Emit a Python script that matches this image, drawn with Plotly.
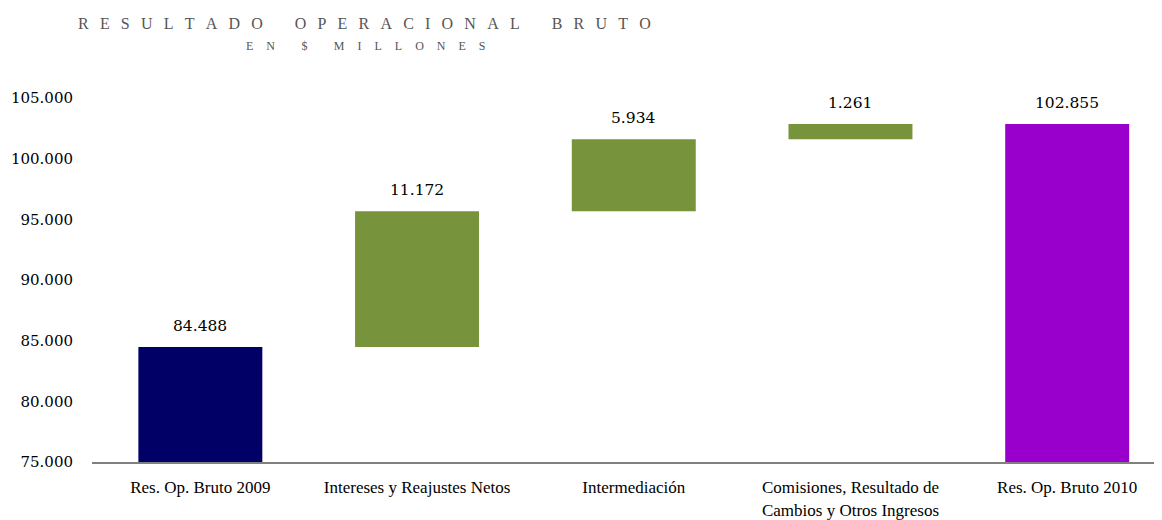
import plotly.graph_objects as go

categories = ["Res. Op. Bruto 2009", "Intereses y Reajustes Netos", "Intermediación",
              "Comisiones, Resultado de<br>Cambios y Otros Ingresos", "Res. Op. Bruto 2010"]
values = [84488, 11172, 5934, 1261, 102855]
kinds = ["total", "delta", "delta", "delta", "total"]
colors = ["#000066", "#77933C", "#77933C", "#77933C", "#9900CC"]
y_ticks = [75000, 80000, 85000, 90000, 95000, 100000, 105000]
y_tick_labels = ["75.000", "80.000", "85.000", "90.000", "95.000", "100.000", "105.000"]

# bases for the floating bars
bases = []
run = 0
for v, k in zip(values, kinds):
    if k == "total":
        bases.append(0)
        run = v
    else:
        bases.append(run)
        run += v

labels = [f"{v:,}".replace(",", ".") for v in values]


def spaced(s, gap, word_gap):
    # letter-spaced caps like the original header
    words = s.split(" ")
    return word_gap.join(gap.join(list(w)) for w in words)


fig = go.Figure()
fig.add_trace(go.Bar(
    x=categories, y=values, base=bases,
    marker=dict(color=colors, line=dict(width=0)),
    width=0.572, hoverinfo="x+y",
))

for c, b, v, t in zip(categories, bases, values, labels):
    fig.add_annotation(x=c, y=b + v, text=t, showarrow=False, yanchor="bottom", yshift=10,
                       font=dict(family="DejaVu Serif", size=15.5, color="#000000"))

fig.add_annotation(text=spaced("RESULTADO OPERACIONAL BRUTO", "\u2002\u2009", "\u2002\u2002\u2002\u2002"),
                   xref="paper", yref="paper", x=-0.015, y=1.205, xanchor="left", yanchor="middle",
                   showarrow=False, font=dict(family="Liberation Serif", size=16, color="#555555"))
fig.add_annotation(text=spaced("EN $ MILLONES", "\u2002\u2002\u200a", "\u2002\u2002\u2002\u2002\u2009"),
                   xref="paper", yref="paper", x=0.2545, y=1.143, xanchor="center", yanchor="middle",
                   showarrow=False, font=dict(family="Liberation Serif", size=12, color="#555555"))

fig.update_layout(
    width=1162, height=520,
    margin=dict(l=84, r=4, t=90, b=66),
    plot_bgcolor="white", paper_bgcolor="white",
    showlegend=False,
    xaxis=dict(showline=True, linecolor="#808080", linewidth=2, ticks="", ticklabelstandoff=9,
               automargin=False, range=[-0.5, 4.456],
               tickfont=dict(family="Liberation Serif", size=17, color="#000000")),
    yaxis=dict(range=[75000, 105000], tickvals=y_ticks, ticktext=y_tick_labels,
               showgrid=False, zeroline=False, showline=False, ticklabelstandoff=18,
               automargin=False,
               tickfont=dict(family="DejaVu Serif", size=15, color="#000000")),
)

fig.write_html("out.html")
